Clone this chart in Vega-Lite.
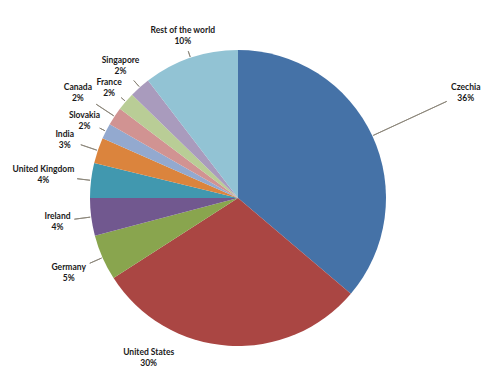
{
  "$schema": "https://vega.github.io/schema/vega-lite/v6.json",
  "width": 476,
  "height": 368,
  "autosize": {"type": "none"},
  "padding": {"left": 0, "top": 14, "right": 19, "bottom": 0},
  "background": "white",
  "config": {"view": {"stroke": null}},
  "data": {
    "values": [
      {"country": "Czechia", "share": 0.362},
      {"country": "United States", "share": 0.297},
      {"country": "Germany", "share": 0.050},
      {"country": "Ireland", "share": 0.041},
      {"country": "United Kingdom", "share": 0.038},
      {"country": "India", "share": 0.028},
      {"country": "Slovakia", "share": 0.017},
      {"country": "Canada", "share": 0.020},
      {"country": "France", "share": 0.020},
      {"country": "Singapore", "share": 0.023},
      {"country": "Rest of the world", "share": 0.104}
    ]
  },
  "transform": [{"window": [{"op": "row_number", "as": "idx"}]}],
  "layer": [
    {
      "mark": {"type": "arc", "outerRadius": 148},
      "encoding": {
        "theta": {"field": "share", "type": "quantitative", "stack": true},
        "order": {"field": "idx", "type": "quantitative"},
        "color": {
          "field": "country",
          "type": "nominal",
          "legend": null,
          "scale": {
            "domain": ["Czechia", "United States", "Germany", "Ireland", "United Kingdom", "India", "Slovakia", "Canada", "France", "Singapore", "Rest of the world"],
            "range": ["#4572A7", "#AA4643", "#89A54E", "#71588F", "#4198AF", "#DB843D", "#93A9CF", "#D19392", "#B9CD96", "#A99BBD", "#92C3D4"]
          }
        }
      }
    },
    {
      "transform": [
        {"stack": "share", "groupby": [], "sort": [{"field": "idx", "order": "ascending"}], "as": ["s0", "s1"]},
        {"fold": ["s0", "s1"], "as": ["edge", "pos"]},
        {"aggregate": [{"op": "mean", "field": "pos", "as": "mid"}], "groupby": ["country"]},
        {"filter": "datum.country !== 'United States'"}
      ],
      "mark": {
        "type": "arc",
        "radius": {"expr": "({'Czechia': 230, 'Germany': 162, 'Ireland': 165, 'United Kingdom': 162, 'India': 166, 'Slovakia': 155, 'Canada': 170, 'France': 154, 'Singapore': 157, 'Rest of the world': 155})[datum.country]"},
        "radius2": 149,
        "stroke": "#8a8478",
        "strokeWidth": 0.9,
        "fill": "transparent"
      },
      "encoding": {
        "theta": {"field": "mid", "type": "quantitative"},
        "theta2": {"field": "mid"}
      }
    },
    {
      "mark": {
        "type": "text",
        "radius": {"expr": "({'Czechia': 251, 'United States': 172, 'Germany': 185, 'Ireland': 182, 'United Kingdom': 196, 'India': 183, 'Slovakia': 172, 'Canada': 192, 'France': 170, 'Singapore': 177, 'Rest of the world': 172})[datum.country]"},
        "dx": {"expr": "datum.country === 'United States' ? -78 : 0"},
        "dy": {"expr": "datum.country === 'United States' ? -17.5 : -5.5"},
        "font": "Lato", "fontWeight": "bold", "fontSize": 8.5, "fill": "#1a1a1a"
      },
      "encoding": {
        "theta": {"field": "share", "type": "quantitative", "stack": true},
        "order": {"field": "idx", "type": "quantitative"},
        "text": {"field": "country", "type": "nominal"}
      }
    },
    {
      "mark": {
        "type": "text",
        "radius": {"expr": "({'Czechia': 251, 'United States': 172, 'Germany': 185, 'Ireland': 182, 'United Kingdom': 196, 'India': 183, 'Slovakia': 172, 'Canada': 192, 'France': 170, 'Singapore': 177, 'Rest of the world': 172})[datum.country]"},
        "dx": {"expr": "datum.country === 'United States' ? -78 : 0"},
        "dy": {"expr": "datum.country === 'United States' ? -6.5 : 5.5"},
        "font": "Lato", "fontWeight": "bold", "fontSize": 8.5, "fill": "#1a1a1a"
      },
      "encoding": {
        "theta": {"field": "share", "type": "quantitative", "stack": true},
        "order": {"field": "idx", "type": "quantitative"},
        "text": {"field": "share", "type": "quantitative", "format": ".0%"}
      }
    }
  ]
}
